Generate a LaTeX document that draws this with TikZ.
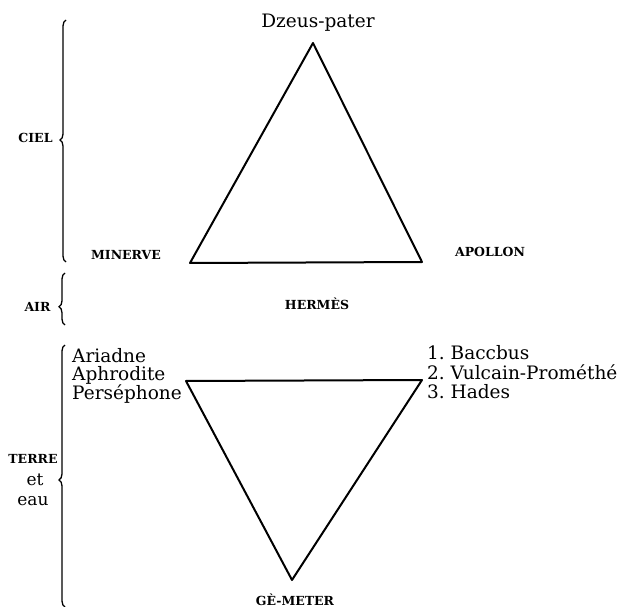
\documentclass[tikz,border=0pt]{standalone}
\usepackage{fontspec}
\setmainfont{DejaVu Serif}
\usetikzlibrary{decorations.pathreplacing}
\begin{document}
\begin{tikzpicture}[x=1pt,y=-1pt,
  lbl/.style={inner sep=0pt, anchor=base west, font=\fontsize{18.5}{18.5}\selectfont},
  caplbl/.style={inner sep=0pt, anchor=base, font=\bfseries\fontsize{12.5}{13}\selectfont},
  smlbl/.style={inner sep=0pt, anchor=base, font=\fontsize{17}{17}\selectfont},
  tri/.style={line width=2pt, line join=round},
  brc/.style={line width=1.3pt, decorate, decoration={brace, amplitude=6pt, aspect=#1}},
]
\useasboundingbox (0,0) rectangle (638,607);

% upper triangle
\coordinate (zA) at (313,43);
\coordinate (zL) at (190,263);
\coordinate (zR) at (422,262);
\draw[tri] (zA) -- (zL) -- (zR) -- cycle;

% lower triangle
\coordinate (gL) at (186,381);
\coordinate (gR) at (422,380);
\coordinate (gB) at (292,580);
\draw[tri] (gL) -- (gR) -- (gB) -- cycle;

% braces
\coordinate (b1t) at (66,20);  \coordinate (b1b) at (66,262);
\coordinate (b2t) at (65,273); \coordinate (b2b) at (65,325);
\coordinate (b3t) at (65,345); \coordinate (b3b) at (65,607);
\draw[brc=0.504] (b1b) -- (b1t);
\draw[brc=0.35] (b2b) -- (b2t);
\draw[brc=0.485] (b3b) -- (b3t);

% titles
\node[lbl, anchor=base] (dzeus) at (318,28) {Dzeus-pater};
\node[caplbl] (ciel) at (35.5,143) {CIEL};
\node[caplbl] (minerve) at (126,260) {MINERVE};
\node[caplbl] (apollon) at (490,257) {APOLLON};
\node[caplbl] (air) at (37.5,312) {AIR};
\node[caplbl] (hermes) at (317,309) {HERMÈS};
\node[caplbl] (terre) at (33,463) {TERRE};
\node[smlbl] (et) at (35,485) {et};
\node[smlbl] (eau) at (33,505) {eau};
\node[caplbl] (gemeter) at (295,605) {GÈ-METER};

% left list
\node[lbl] (ariadne) at (72,362) {Ariadne};
\node[lbl] (aphrodite) at (72,380) {Aphrodite};
\node[lbl] (persephone) at (72,399) {Perséphone};

% right list
\node[lbl] (bacchus) at (427,359) {1.\ Baccbus};
\node[lbl] (vulcain) at (427,379) {2.\ Vulcain-Prométhé};
\node[lbl] (hades) at (427,398) {3.\ Hades};
\end{tikzpicture}
\end{document}
